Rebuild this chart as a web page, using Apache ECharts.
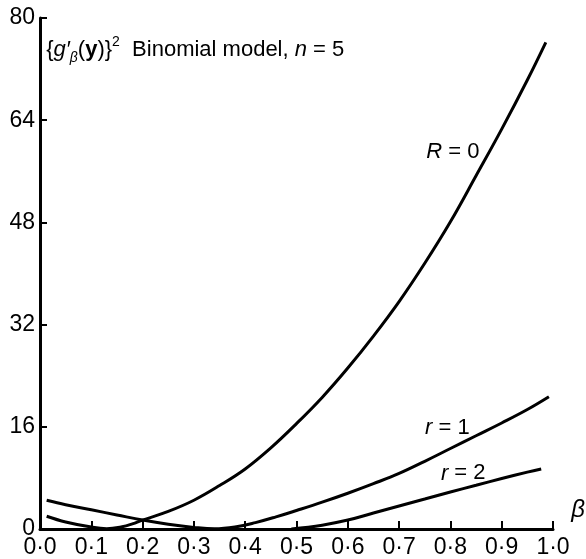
<!DOCTYPE html>
<html>
<head>
<meta charset="utf-8">
<script src="https://cdn.jsdelivr.net/npm/echarts@6/dist/echarts.min.js"></script>
<style>
html,body{margin:0;padding:0;background:#fff;}
#c{width:586px;height:559px;}
</style>
</head>
<body>
<div id="c"></div>
<script>
// axis tick values
const xTicks = [0, 0.1, 0.2, 0.3, 0.4, 0.5, 0.6, 0.7, 0.8, 0.9, 1.0];
const yTicks = [0, 16, 32, 48, 64, 80];

// Curve R = 0
const betaR0 = [0.013, 0.05, 0.10, 0.13, 0.16, 0.18, 0.20, 0.25, 0.30, 0.35, 0.40, 0.45, 0.50, 0.55, 0.60, 0.65, 0.70, 0.75, 0.80, 0.85, 0.90, 0.95, 0.986];
const valR0  = [2.0,   1.1,  0.3,  0.05, 0.35, 0.8,  1.4,  2.75, 4.5,  6.8,  9.4,  12.7, 16.5, 20.6, 25.2, 30.2, 35.6, 41.6, 48.1, 55.3, 62.6, 70.3, 76.2];

// Curve r = 1
const betaR1 = [0.013, 0.05, 0.10, 0.15, 0.20, 0.25, 0.30, 0.34, 0.38, 0.42, 0.46, 0.50, 0.55, 0.60, 0.65, 0.70, 0.75, 0.80, 0.85, 0.90, 0.95, 0.992];
const valR1  = [4.5,   3.8,  3.0,  2.2,  1.4,  0.75, 0.25, 0.02, 0.3,  1.0,  1.9,  2.9,  4.2,  5.6,  7.1,  8.7,  10.6, 12.6, 14.6, 16.6, 18.7, 20.7];

// Curve r = 2
const betaR2 = [0.49, 0.55, 0.60, 0.65, 0.70, 0.75, 0.80, 0.85, 0.90, 0.95, 0.977];
const valR2  = [0.0,  0.6,  1.4,  2.5,  3.6,  4.7,  5.8,  6.85, 7.9,  8.9,  9.4];

// Curve labels (data coordinates)
const curveLabels = ['{i|R} = 0', '{i|r} = 1', '{i|r} = 2'];
const curveLabelPos = [[0.805, 59.1], [0.794, 15.8], [0.825, 8.7]];

const FONT = "'Liberation Sans', Arial, Helvetica, sans-serif";
const pairs = (xs, ys) => xs.map((x, i) => [x, ys[i]]);

const chart = echarts.init(document.getElementById('c'), null, {renderer: 'canvas'});

const lineSeries = (name, data) => ({
  name, type: 'line', data, smooth: 0.4, showSymbol: false, symbol: 'none',
  lineStyle: {color: '#000', width: 3}, clip: true, silent: true
});

chart.setOption({
  animation: false,
  backgroundColor: '#fff',
  grid: {left: 40, right: 33, top: 18, bottom: 28},
  xAxis: {
    type: 'value', min: xTicks[0], max: xTicks[xTicks.length - 1], interval: 0.1,
    axisLine: {lineStyle: {color: '#000', width: 3}},
    axisTick: {inside: true, length: 8, lineStyle: {color: '#000', width: 2}},
    axisLabel: {
      formatter: v => v.toFixed(1).replace('.', '\u00B7'),
      fontSize: 23, color: '#000', margin: 7, fontFamily: FONT
    },
    splitLine: {show: false}
  },
  yAxis: {
    type: 'value', min: yTicks[0], max: yTicks[yTicks.length - 1], interval: 16,
    axisLine: {lineStyle: {color: '#000', width: 3}},
    axisTick: {inside: true, length: 7, lineStyle: {color: '#000', width: 2}},
    axisLabel: {fontSize: 23, color: '#000', margin: 5, fontFamily: FONT},
    splitLine: {show: false}
  },
  series: [
    lineSeries('R=0', pairs(betaR0, valR0)),
    lineSeries('r=1', pairs(betaR1, valR1)),
    lineSeries('r=2', pairs(betaR2, valR2))
  ]
});

const px = p => chart.convertToPixel({gridIndex: 0}, p);
const baseRich = {
  n: {fontSize: 22, fontFamily: FONT, color: '#000', lineHeight: 30},
  i: {fontSize: 22, fontFamily: FONT, color: '#000', fontStyle: 'italic', lineHeight: 30},
  b: {fontSize: 22, fontFamily: FONT, color: '#000', fontWeight: 'bold', lineHeight: 30},
  sub: {fontSize: 14, fontFamily: FONT, color: '#000', fontStyle: 'italic', lineHeight: 14, verticalAlign: 'bottom'},
  sup: {fontSize: 14, fontFamily: FONT, color: '#000', lineHeight: 14, verticalAlign: 'top'}
};

const graphics = [];
curveLabels.forEach((t, k) => {
  const p = px(curveLabelPos[k]);
  graphics.push({
    type: 'text', x: p[0], y: p[1], silent: true,
    style: {text: '{n|' + t.replace(/\{i\|(.)\}/, '}{i|$1}{n|') + '}', rich: baseRich,
            align: 'center', verticalAlign: 'middle', fill: '#000',
            font: '22px ' + FONT}
  });
});

// title
const tp = px([0.012, 75]);
graphics.push({
  type: 'text', x: tp[0], y: tp[1], silent: true,
  style: {
    text: '{n|{}{i|g\u2032}{sub|\u03B2}{n|(}{b|y}{n|)}{n|}}{sup|2}{n|  Binomial model, }{i|n}{n| = 5}',
    rich: baseRich, align: 'left', verticalAlign: 'middle', fill: '#000', font: '22px ' + FONT
  }
});

// beta axis name
const bp = px([1.049, 3.0]);
graphics.push({
  type: 'text', x: bp[0], y: bp[1], silent: true,
  style: {text: '\u03B2', font: 'italic 24px ' + FONT, fill: '#000', align: 'center', verticalAlign: 'middle'}
});

chart.setOption({graphic: graphics});
</script>
</body>
</html>
